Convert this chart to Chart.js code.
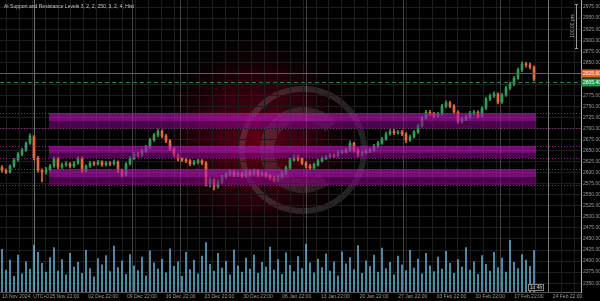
<!DOCTYPE html>
<html><head><meta charset="utf-8">
<script src="https://cdn.jsdelivr.net/npm/chart.js@4/dist/chart.umd.min.js"></script>
<style>html,body{margin:0;padding:0;background:#000;overflow:hidden}#c{display:block}</style>
</head><body>
<canvas id="c" width="600" height="301"></canvas>
<script>
const titleText = "AI Support and Resistance Levels 3, 2, 2, 250, 3, 2, 4, Hist";
const firstXLabel = "13 Nov 2024, UTC+0";
const xTickLabels = ["25 Nov 22:00","02 Dec 22:00","09 Dec 22:00","16 Dec 22:00","23 Dec 22:00","30 Dec 22:00","06 Jan 22:00","13 Jan 22:00","20 Jan 22:00","27 Jan 22:00","03 Feb 22:00","10 Feb 22:00","17 Feb 22:00","24 Feb 22:00"];

const openP = [2612,2606,2602,2615,2629,2642,2651,2667,2681,2633,
2606,2602,2608,2616,2633,2613,2618,2620,2615,2622,
2633,2604,2615,2622,2620,2624,2618,2622,2620,2624,
2604,2595,2620,2633,2642,2640,2649,2658,2674,2685,
2694,2683,2672,2654,2640,2631,2629,2627,2620,2624,
2627,2622,2575,2584,2570,2579,2590,2597,2602,2595,
2599,2593,2602,2597,2604,2595,2599,2593,2588,2584,
2590,2599,2611,2629,2636,2631,2622,2615,2611,2618,
2627,2633,2636,2640,2638,2645,2647,2651,2667,2651,
2640,2645,2649,2651,2660,2667,2676,2688,2694,2690,
2692,2688,2674,2681,2692,2706,2724,2737,2733,2728,
2733,2751,2758,2751,2737,2715,2722,2726,2735,2737,
2728,2746,2767,2774,2778,2760,2776,2792,2801,2814,
2833,2846,2844,2839];
const closeP = [2606,2602,2615,2629,2642,2651,2667,2683,2633,2606,
2602,2608,2615,2633,2613,2618,2620,2615,2622,2633,
2604,2615,2622,2620,2624,2618,2622,2620,2624,2604,
2595,2620,2633,2642,2640,2649,2658,2674,2685,2694,
2683,2672,2654,2640,2631,2629,2627,2620,2624,2627,
2622,2575,2584,2570,2579,2590,2597,2602,2595,2599,
2593,2602,2597,2604,2595,2599,2593,2588,2584,2590,
2599,2611,2629,2636,2631,2622,2615,2611,2618,2627,
2633,2636,2640,2638,2645,2647,2651,2667,2651,2640,
2645,2649,2651,2660,2667,2676,2688,2694,2690,2692,
2688,2674,2681,2692,2706,2724,2737,2733,2728,2733,
2751,2758,2751,2737,2715,2722,2726,2735,2737,2728,
2746,2767,2774,2778,2760,2776,2792,2801,2814,2833,
2846,2844,2839,2812];
const highP = [2616,2609,2618,2632,2646,2655,2670,2688,2684,2637,
2609,2612,2619,2636,2635,2622,2625,2623,2626,2637,
2636,2618,2626,2625,2628,2627,2626,2625,2629,2627,
2608,2623,2637,2646,2647,2653,2662,2678,2689,2699,
2697,2687,2675,2657,2644,2635,2633,2630,2628,2631,
2630,2625,2589,2587,2584,2594,2601,2606,2605,2603,
2602,2606,2605,2608,2607,2603,2602,2596,2591,2594,
2603,2615,2633,2641,2640,2634,2625,2619,2622,2631,
2637,2640,2644,2643,2649,2651,2655,2672,2669,2654,
2649,2653,2655,2664,2671,2680,2692,2698,2698,2696,
2696,2691,2685,2696,2710,2728,2741,2741,2737,2737,
2755,2763,2762,2754,2740,2726,2730,2739,2741,2740,
2750,2771,2778,2783,2781,2780,2796,2805,2818,2837,
2851,2850,2848,2842];
const lowP = [2601,2598,2599,2612,2626,2638,2648,2664,2629,2601,
2579,2597,2604,2612,2609,2610,2614,2611,2612,2619,
2600,2601,2612,2616,2617,2614,2615,2616,2617,2600,
2590,2592,2617,2630,2636,2637,2646,2655,2671,2681,
2679,2668,2650,2636,2627,2625,2623,2616,2617,2620,
2618,2570,2568,2561,2565,2576,2586,2593,2591,2591,
2589,2590,2593,2594,2591,2592,2589,2584,2579,2580,
2587,2596,2608,2626,2627,2618,2611,2607,2608,2615,
2624,2630,2633,2634,2635,2642,2644,2648,2647,2636,
2637,2642,2645,2648,2657,2664,2673,2685,2686,2687,
2684,2668,2671,2678,2689,2703,2721,2729,2724,2725,
2730,2747,2747,2733,2711,2712,2718,2723,2731,2724,
2725,2743,2763,2770,2756,2757,2773,2788,2797,2811,
2829,2839,2835,2808];
const volume = [82,42,61,30,71,35,58,44,90,76, 55,38,66,85,40,62,33,74,48,57,
36,80,45,29,64,52,70,39,88,47, 60,34,72,50,41,67,31,79,56,44,
63,37,83,49,58,30,76,43,61,35, 69,95,53,40,74,46,59,33,81,50,
38,65,44,71,36,57,48,86,42,62, 34,75,51,39,68,45,92,56,37,63,
47,73,40,58,31,77,54,66,43,89, 36,60,49,71,38,84,45,57,33,69,
52,41,80,46,63,35,74,50,39,67, 44,78,55,36,62,48,85,42,58,34,
70,53,40,76,47,65,38,99,57,45, 72,61,49,80];

// support / resistance zones: [top, split, bottom]
const zoneTop = [2735.2, 2660.5, 2608.4];
const zoneMid = [2717.0, 2644.7, 2590.3];
const zoneBottom = [2701.2, 2633.3, 2572.2];
const zoneStartIdx = 11.75, zoneEndIdx = 133.5;
const markerIdx = [8, 32.5, 44.5, 76, 100.25, 124.5, 136.5];
const priceLineSolid = 2825.6;
const priceLineDashed = 2805.4;

const UP = '#2f9c58', DOWN = '#e8673a';
const colorFor = i => closeP[i] >= openP[i] ? UP : DOWN;

const wickData = closeP.map((c, i) => ({x: i, y: [lowP[i], highP[i]]}));
const bodyData = closeP.map((c, i) => ({x: i, y: [openP[i], closeP[i]]}));
const volData = volume.map((v, i) => ({x: i, y: v}));

const X_MIN = -0.5, X_MAX = 144.75, GRID_STEP = 3.225;

const deco = {
  id: 'deco',
  beforeDraw(chart) {
    const c = chart.ctx;
    c.save();
    c.fillStyle = '#000';
    c.fillRect(0, 0, chart.width, chart.height);
    const g = c.createRadialGradient(258, 140, 5, 258, 140, 115);
    g.addColorStop(0, 'rgba(115,0,28,0.8)');
    g.addColorStop(0.5, 'rgba(80,0,20,0.5)');
    g.addColorStop(1, 'rgba(0,0,0,0)');
    c.fillStyle = g;
    c.fillRect(130, 20, 260, 260);
    c.strokeStyle = 'rgba(140,140,140,0.25)';
    c.lineWidth = 6;
    c.beginPath(); c.arc(303, 150, 61, 0, Math.PI * 2); c.stroke();
    c.strokeStyle = 'rgba(120,120,120,0.25)';
    c.lineWidth = 14;
    c.beginPath(); c.arc(303, 150, 36, 0.3 * Math.PI, 1.78 * Math.PI); c.stroke();
    c.restore();
  },
  beforeDatasetsDraw(chart) {
    const c = chart.ctx, xs = chart.scales.x, a = chart.chartArea;
    c.save();
    markerIdx.forEach((m, k) => {
      const px = Math.round(xs.getPixelForValue(m)) + 0.5;
      c.strokeStyle = (k === 0 || k === markerIdx.length - 1) ? 'rgba(200,200,200,0.55)' : 'rgba(160,160,160,0.4)';
      c.lineWidth = 1;
      c.beginPath(); c.moveTo(px, a.top); c.lineTo(px, a.bottom); c.stroke();
    });
    c.restore();
  },
  afterDatasetsDraw(chart) {
    const c = chart.ctx, xs = chart.scales.x, ys = chart.scales.y, a = chart.chartArea;
    c.save();
    const x0 = xs.getPixelForValue(zoneStartIdx), x1 = xs.getPixelForValue(zoneEndIdx);
    for (let k = 0; k < zoneTop.length; k++) {
      const yT = ys.getPixelForValue(zoneTop[k]), yM = ys.getPixelForValue(zoneMid[k]), yB = ys.getPixelForValue(zoneBottom[k]);
      c.fillStyle = 'rgba(185,20,185,0.62)';
      c.fillRect(x0, yT, x1 - x0, yM - yT);
      c.fillStyle = 'rgba(140,0,140,0.55)';
      c.fillRect(x0, yM, x1 - x0, yB - yM);
      c.strokeStyle = 'rgba(160,40,160,0.85)';
      c.setLineDash([1, 2]);
      c.lineWidth = 1;
      [yT, yB].forEach(yy => {
        const p = Math.round(yy) + 0.5;
        c.beginPath(); c.moveTo(a.left, p); c.lineTo(a.right, p); c.stroke();
      });
    }
    c.setLineDash([]);
    // price lines
    const ySol = Math.round(ys.getPixelForValue(priceLineSolid)) + 0.5;
    const yDash = Math.round(ys.getPixelForValue(priceLineDashed)) + 0.5;
    c.strokeStyle = '#2a7d4e'; c.lineWidth = 1;
    c.beginPath(); c.moveTo(a.left, ySol); c.lineTo(a.right, ySol); c.stroke();
    c.setLineDash([4, 3]);
    c.beginPath(); c.moveTo(a.left, yDash); c.lineTo(a.right, yDash); c.stroke();
    c.setLineDash([]);
    // tags
    c.font = '5px "Liberation Sans", Arial, sans-serif';
    c.textBaseline = 'middle';
    c.textAlign = 'left';
    c.fillStyle = '#e8622c';
    c.fillRect(a.right, ySol - 4, 20, 8);
    c.fillStyle = '#fff';
    c.fillText(priceLineSolid.toFixed(2), a.right + 2, ySol);
    c.fillStyle = '#1e9a4a';
    c.fillRect(a.right, yDash - 4, 20, 8);
    c.fillStyle = '#fff';
    c.fillText(priceLineDashed.toFixed(2), a.right + 2, yDash);
    // title
    c.fillStyle = '#c8c8c8';
    c.fillText(titleText, 4, 7);
    // first x label
    c.fillStyle = '#9a9a9a';
    c.fillText(firstXLabel, 2, a.bottom + 5);
    // measuring bracket (top right)
    c.strokeStyle = '#9a9a9a';
    c.beginPath(); c.moveTo(576.5, 4); c.lineTo(576.5, 48); c.stroke();
    c.beginPath(); c.moveTo(575, 4.5); c.lineTo(578, 4.5); c.moveTo(575, 48.5); c.lineTo(578, 48.5); c.stroke();
    c.save();
    c.translate(573, 26); c.rotate(-Math.PI / 2);
    c.textAlign = 'center'; c.fillStyle = '#aaa';
    c.fillText('100.00 pts', 0, 0);
    c.restore();
    // countdown box
    const bx = xs.getPixelForValue(131.5);
    c.fillStyle = '#111'; c.strokeStyle = '#888';
    c.fillRect(bx, a.bottom - 8, 15, 6); c.strokeRect(bx + 0.5, a.bottom - 7.5, 15, 6);
    c.fillStyle = '#ccc'; c.textAlign = 'center';
    c.fillText('1d 4h', bx + 8, a.bottom - 4.5);
    c.restore();
  }
};

new Chart(document.getElementById('c'), {
  type: 'bar',
  data: {
    datasets: [
      {data: volData, yAxisID: 'yv', backgroundColor: 'rgba(100,185,225,0.9)', barThickness: 1, grouped: false, order: 3},
      {data: wickData, yAxisID: 'y', backgroundColor: ctx => colorFor(ctx.dataIndex), barThickness: 1, grouped: false, order: 2},
      {data: bodyData, yAxisID: 'y', backgroundColor: ctx => colorFor(ctx.dataIndex), barThickness: 2, minBarLength: 1, grouped: false, order: 1}
    ]
  },
  options: {
    responsive: false, animation: false, devicePixelRatio: 1,
    layout: {padding: 0},
    plugins: {legend: {display: false}, tooltip: {enabled: false}, title: {display: false}},
    scales: {
      x: {
        type: 'linear', min: X_MIN, max: X_MAX, offset: false,
        afterBuildTicks: s => {
          const t = [];
          for (let k = 1; X_MIN + GRID_STEP * k < X_MAX - 0.5; k++) t.push({value: X_MIN + GRID_STEP * k, k});
          s.ticks = t;
        },
        afterFit: s => { s.height = 9; s.paddingLeft = 0; s.paddingRight = 0; },
        grid: {color: '#1d1d1d', drawTicks: false},
        border: {color: '#555'},
        ticks: {
          autoSkip: false, maxRotation: 0, padding: 2, color: '#9a9a9a',
          font: {size: 5, family: '"Liberation Sans", Arial, sans-serif'},
          callback: function (v, i) {
            const k = i + 1;
            if (k >= 5 && (k - 5) % 3 === 0) return xTickLabels[(k - 5) / 3] || '';
            return '';
          }
        }
      },
      y: {
        position: 'right', min: 2330, max: 2991,
        afterFit: s => { s.width = 19; s.paddingTop = 0; s.paddingBottom = 0; },
        grid: {color: '#1d1d1d', drawTicks: false},
        border: {color: '#b0b0b0'},
        ticks: {
          stepSize: 25, includeBounds: false, padding: 2, color: '#9a9a9a',
          font: {size: 5, family: '"Liberation Sans", Arial, sans-serif'},
          callback: v => v.toFixed(2)
        }
      },
      yv: {display: false, min: 0, max: 560}
    }
  },
  plugins: [deco]
});
</script>
</body></html>
